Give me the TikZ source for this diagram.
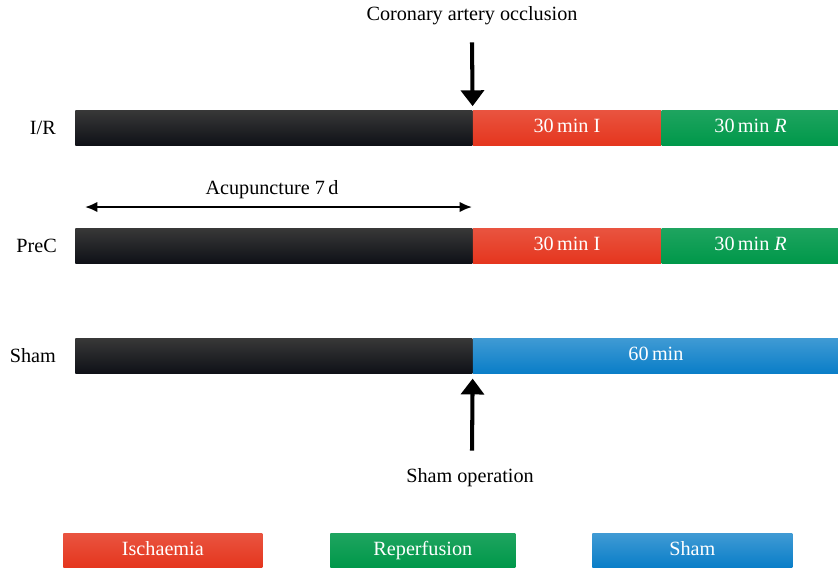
\documentclass[tikz,border=0pt]{standalone}
\usepackage{fontspec}
\setmainfont{Liberation Serif}
\usepackage{xcolor}
\usetikzlibrary{shapes,arrows.meta}
\usetikzlibrary{positioning}
\definecolor{barblack}{HTML}{0F1117}
\definecolor{barred}{HTML}{E5361E}
\definecolor{bargreen}{HTML}{00984A}
\definecolor{barblue}{HTML}{0A7EC8}
\tikzstyle{seg} = [inner sep=0pt, minimum height=0.7cm, text height=1.55ex, text depth=0.25ex, text=white, anchor=west]
\tikzstyle{blackseg} = [seg, top color=black!78, middle color=barblack, bottom color=barblack, minimum width=7.94cm]
\tikzstyle{redseg} = [seg, top color=barred!85!white, middle color=barred, bottom color=barred, minimum width=3.76cm]
\tikzstyle{greenseg} = [seg, top color=bargreen!88!white, middle color=bargreen, bottom color=bargreen, minimum width=3.56cm]
\tikzstyle{blueseg} = [seg, top color=barblue!78!white, middle color=barblue, bottom color=barblue, minimum width=7.32cm]
\tikzstyle{bigarrow} = [draw, line width=2.3pt, -{Triangle[width=13pt,length=9pt]}]
\tikzstyle{line} = [draw, line width=1.2pt, {Latex[length=7pt,width=6pt]}-{Latex[length=7pt,width=6pt]}]

\begin{document}
\begin{tikzpicture}[x=0.02cm, y=-0.02cm, font=\fontsize{11.5}{14}\selectfont]
    \useasboundingbox (0,0) rectangle (838,569);
    % I/R row
     \node [blackseg] (irblack) at (75,127.5) {};
     \node [redseg, right=0pt of irblack] (irisch) {30\,min I};
     \node [greenseg, right=0pt of irisch] (irrep) {30\,min \textit{R}};
     \node [left=0.26cm of irblack] (irlab) {I/R};
    % PreC row
     \node [blackseg] (precblack) at (75,245.5) {};
     \node [redseg, right=0pt of precblack] (precisch) {30\,min I};
     \node [greenseg, right=0pt of precisch] (precrep) {30\,min \textit{R}};
     \node [left=0.24cm of precblack] (preclab) {PreC};
    % Sham row
     \node [blackseg] (shamblack) at (75,355.5) {};
     \node [blueseg, right=0pt of shamblack] (shamrest) {60\,min};
     \node [left=0.26cm of shamblack] (shamlab) {Sham};

    % markers
     \node (occl) at (472,16) {Coronary artery occlusion};
     \path [bigarrow] (occl.south) ++(0,11) -- ([yshift=2pt]irblack.north east);
     \node (shamop) at (470,478) {Sham operation};
     \path [bigarrow] (shamop.north) ++(2,-12) -- ([yshift=-3pt]shamblack.south east);
     \node (acu) at (272,190) {Acupuncture 7\,d};
     \coordinate (acustart) at (85,207);
     \coordinate (acuend) at (472,207);
     \path [line] (acustart) -- (acuend);

    % legend
     \node [redseg, minimum width=3.98cm, minimum height=0.68cm] (legisch) at (63,550) {Ischaemia};
     \node [greenseg, minimum width=3.7cm, minimum height=0.68cm] (legrep) at (330,550) {Reperfusion};
     \node [blueseg, minimum width=4cm, minimum height=0.68cm] (legsham) at (592,550) {Sham};
\end{tikzpicture}
\end{document}
